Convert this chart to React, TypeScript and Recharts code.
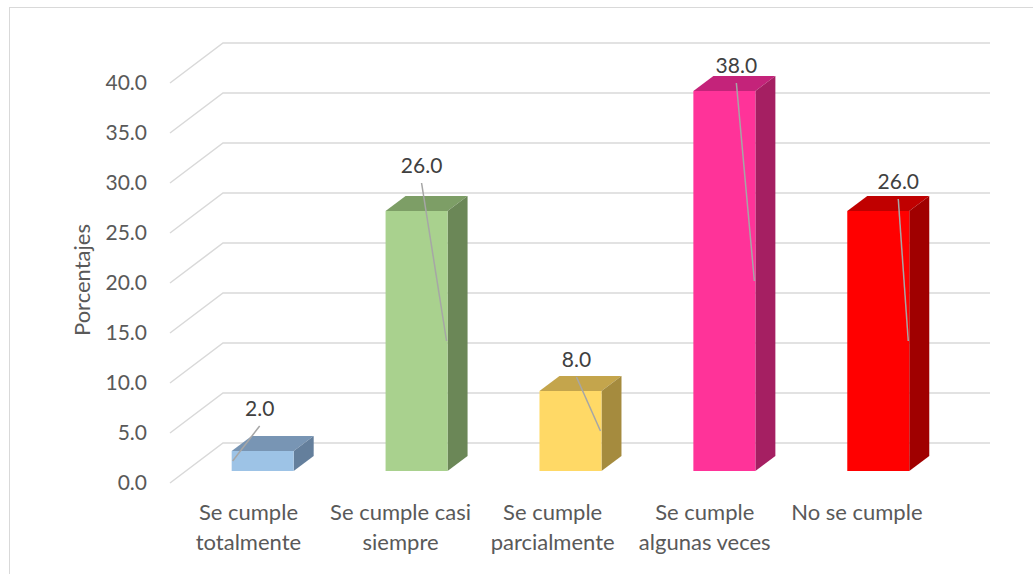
import React from "react";
import { BarChart, Bar, XAxis, YAxis, CartesianGrid, LabelList } from "recharts";

const categories = [
  "Se cumple totalmente",
  "Se cumple casi siempre",
  "Se cumple parcialmente",
  "Se cumple algunas veces",
  "No se cumple",
];
const categoryLines = [
  ["Se cumple", "totalmente"],
  ["Se cumple casi", "siempre"],
  ["Se cumple", "parcialmente"],
  ["Se cumple", "algunas veces"],
  ["No se cumple"],
];
const percentages = [2.0, 26.0, 8.0, 38.0, 26.0];
const yTicks = [0, 5, 10, 15, 20, 25, 30, 35, 40];

// front / top / side face colours of each bar
const faceColors = [
  { front: "#9DC3E6", top: "#7895B4", side: "#647F9C" },
  { front: "#A9D18E", top: "#7D9E66", side: "#6B8757" },
  { front: "#FFD966", top: "#C4A54C", side: "#A58B3E" },
  { front: "#FF3399", top: "#C4237A", side: "#A51F62" },
  { front: "#FF0000", top: "#C00000", side: "#A00000" },
];

// hand-placed data labels: shift from bar centre, height above bar top
const labelShift = [
  { dx: -3, up: 42 },
  { dx: 5, up: 45 },
  { dx: 6, up: 31 },
  { dx: 12, up: 25 },
  { dx: 20, up: 29 },
];

const data = categories.map((name, i) => ({ name, value: percentages[i] }));

const FONT = "Lato, 'Open Sans', sans-serif";
const DEPTH_X = 20;
const DEPTH_Y = 15;

function Box3D(props: any) {
  const { x, y, width, height, index } = props;
  const c = faceColors[index];
  const r = x + width;
  const b = y + height;
  return (
    <g>
      <polygon
        points={`${x},${y} ${x + DEPTH_X},${y - DEPTH_Y} ${r + DEPTH_X},${y - DEPTH_Y} ${r},${y}`}
        fill={c.top}
      />
      <polygon
        points={`${r},${y} ${r + DEPTH_X},${y - DEPTH_Y} ${r + DEPTH_X},${b - DEPTH_Y} ${r},${b}`}
        fill={c.side}
      />
      <rect x={x} y={y} width={width} height={height} fill={c.front} />
    </g>
  );
}

function ValueLabel(props: any) {
  const { x, y, width, height, index, value } = props;
  const s = labelShift[index];
  const lx = x + width / 2 + s.dx;
  const ly = y - s.up;
  const endX = index === 0 ? x + 1 : x + width - 1;
  const endY = y + height / 2;
  return (
    <g>
      <line x1={lx} y1={ly + 17} x2={endX} y2={endY} stroke="#A6A6A6" strokeWidth={1.5} />
      <text x={lx} y={ly} dy={7} textAnchor="middle" fontFamily={FONT} fontSize={21} fill="#404040">
        {Number(value).toFixed(1)}
      </text>
    </g>
  );
}

// gridline drawn as floor edge going back into depth, then across the back wall
function GridLine3D(props: any) {
  const { x1, x2, y1 } = props;
  return (
    <polyline
      points={`${x1 - 15.5},${y1 + 12} ${x1 + 37.5},${y1 - 28} ${x2 + 35},${y1 - 28}`}
      fill="none"
      stroke="#D9D9D9"
      strokeWidth={1.5}
    />
  );
}

function YTick(props: any) {
  const { y, payload } = props;
  return (
    <text x={147} y={y + 12} dy={7} textAnchor="end" fontFamily={FONT} fontSize={21} fill="#595959">
      {Number(payload.value).toFixed(1)}
    </text>
  );
}

function XTick(props: any) {
  const { x, payload, index } = props;
  const lines = categoryLines[index] ?? [payload.value];
  const cx = x - 14 - 1.8 * index;
  return (
    <g>
      {lines.map((t: string, i: number) => (
        <text key={i} x={cx} y={513 + i * 30} dy={7} textAnchor="middle" fontFamily={FONT} fontSize={22} fill="#595959">
          {t}
        </text>
      ))}
    </g>
  );
}

export default function App() {
  return (
    <div
      style={{
        position: "fixed",
        left: 0,
        top: 0,
        width: 1033,
        height: 574,
        background: "#fff",
        overflow: "hidden",
      }}
    >
      <div
        style={{
          position: "absolute",
          left: 9,
          top: 7,
          width: 1100,
          height: 700,
          border: "1px solid #D9D9D9",
        }}
      />
      <div style={{ position: "absolute", left: 0, top: 0 }}>
        <BarChart
          width={1033}
          height={574}
          data={data}
          margin={{ top: 71, right: 78, bottom: 0, left: 85.5 }}
          barCategoryGap="30%"
        >
          <CartesianGrid vertical={false} horizontal={GridLine3D} />
          <XAxis
            dataKey="name"
            axisLine={false}
            tickLine={false}
            interval={0}
            height={103}
            tick={XTick}
          />
          <YAxis
            width={100}
            domain={[0, 40]}
            ticks={yTicks}
            axisLine={false}
            tickLine={false}
            tick={YTick}
            label={{
              value: "Porcentajes",
              angle: -90,
              position: "insideLeft",
              dx: -8,
              dy: 9,
              style: { fontFamily: FONT, fontSize: 22, fill: "#595959", textAnchor: "middle" },
            }}
          />
          <Bar dataKey="value" shape={Box3D} isAnimationActive={false}>
            <LabelList dataKey="value" content={ValueLabel} />
          </Bar>
        </BarChart>
      </div>
    </div>
  );
}
